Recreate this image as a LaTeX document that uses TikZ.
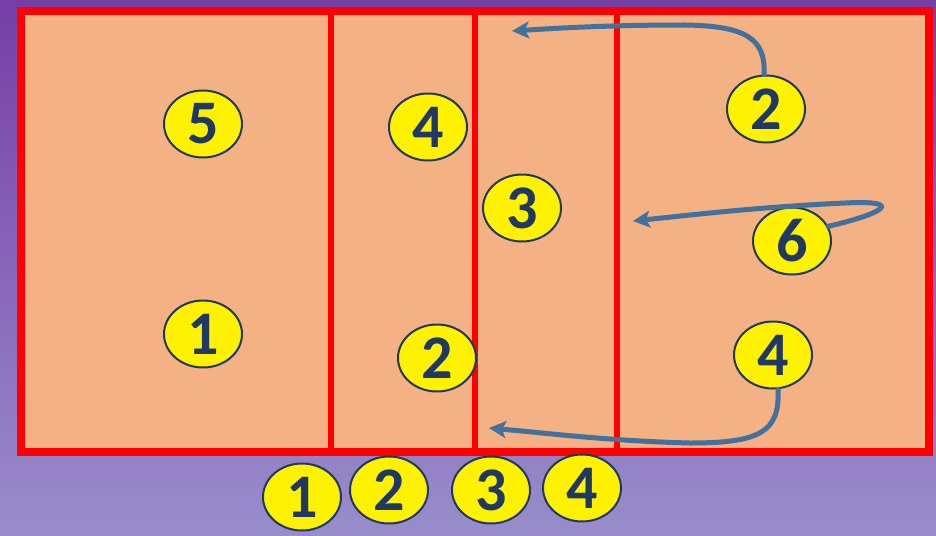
\documentclass[tikz,border=0pt]{standalone}
\usepackage{fontspec}
\setmainfont{Carlito}
\usetikzlibrary{shapes.geometric,arrows.meta}
\definecolor{court}{HTML}{F4B183}
\definecolor{navy}{HTML}{1F3864}
\definecolor{arrowblue}{HTML}{41719C}
\definecolor{bgtop}{HTML}{763FA7}
\definecolor{bgbot}{HTML}{988DCB}
\begin{document}
\begin{tikzpicture}[x=1pt,y=-1pt,
  player/.style={ellipse, draw=navy, line width=2pt, fill=yellow,
    minimum width=78pt, minimum height=67pt, inner sep=0pt, text=navy,
    font=\fontsize{62}{62}\selectfont\bfseries},
  move/.style={draw=arrowblue, line width=5pt, line cap=round,
    -{Stealth[length=17pt,width=17pt,inset=4pt]}},
  courtline/.style={draw=red, line width=5.5pt}]
\useasboundingbox (0,0) rectangle (936,535);
\fill[top color=bgtop, bottom color=bgbot] (0,0) rectangle (936,535);
% court
\fill[court] (21,11) rectangle (929,452);
\draw[courtline] (331,11) -- (331,452);
\draw[courtline] (475,11) -- (475,452);
\draw[courtline] (617,11) -- (617,452);
\draw[red, line width=8pt] (21,11) rectangle (929,452);
% players on court
\node[player] (l5) at (203,124) {5};
\node[player] (l1) at (203,334) {1};
\node[player] (m4) at (428,127) {4};
\node[player] (m2) at (437,358) {2};
\node[player] (m3) at (522,208) {3};
\node[player] (r2) at (766,109) {2};
\node[player] (r6) at (792,241) {6};
\node[player] (r4) at (773,355) {4};
% players below
\node[player] (b1) at (302,497) {1};
\node[player] (b2) at (389,490) {2};
\node[player] (b3) at (491,490) {3};
\node[player] (b4) at (582,488) {4};
% arrow tips
\coordinate (tA) at (512,31);
\coordinate (tB) at (633,221);
\coordinate (tC) at (489,428);
% movements
\draw[move] ([xshift=-2pt]r2.north) .. controls (766,38) and (745,26) .. (685,25)
  .. controls (610,25) and (560,28) .. (tA);
\draw[move] (r6.22) .. controls (885,213) and (905,200) .. (845,203)
  .. controls (760,207) and (700,214) .. (tB);
\draw[move] ([xshift=5pt]r4.south) .. controls (780,432) and (760,443) .. (690,443)
  .. controls (610,441) and (545,433) .. (tC);
\end{tikzpicture}
\end{document}
